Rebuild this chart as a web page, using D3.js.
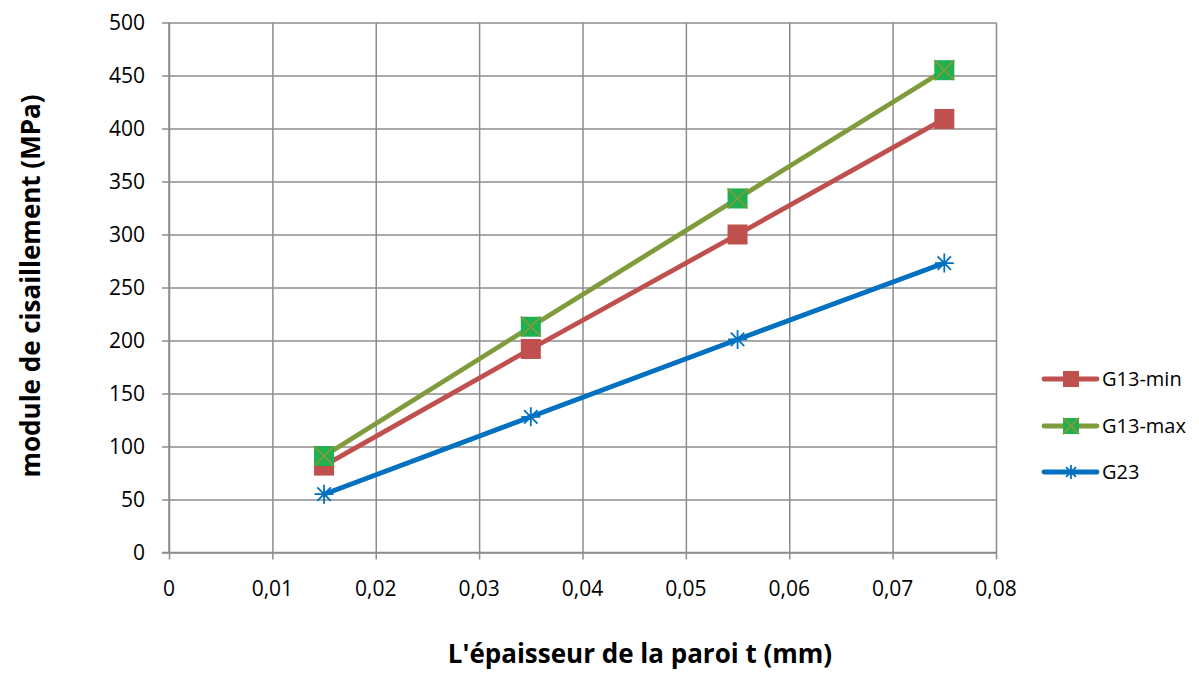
<!DOCTYPE html>
<html>
<head>
<meta charset="utf-8">
<script src="https://cdn.jsdelivr.net/npm/d3@7"></script>
<style>
  html, body { margin: 0; padding: 0; background: #fff; }
  svg { display: block; }
  text { font-family: "Open Sans", "Noto Sans", sans-serif; fill: #000; }
</style>
</head>
<body>
<svg id="chart" width="1199" height="673"></svg>
<script>
// Wall thickness t (mm)
const thickness = [0.015, 0.035, 0.055, 0.075];
// Shear modulus values (MPa)
const g13Min = [82, 192, 300, 409];
const g13Max = [91, 213, 334, 455];
const g23 = [55, 128, 201, 273];
const seriesNames = ["G13-min", "G13-max", "G23"];
const xTicks = [0, 0.01, 0.02, 0.03, 0.04, 0.05, 0.06, 0.07, 0.08];
const yTicks = [0, 50, 100, 150, 200, 250, 300, 350, 400, 450, 500];

const svg = d3.select("#chart");
const plotLeft = 169, plotRight = 996, plotTop = 22.5, plotBottom = 552.5;

const x = d3.scaleLinear().domain([0, 0.08]).range([plotLeft, plotRight]);
const y = d3.scaleLinear().domain([0, 500]).range([plotBottom, plotTop]);
const gridColor = "#8c8c8c";
const fmt = d3.format(".2f");
const frLabel = v => v === 0 ? "0" : fmt(v).replace(".", ",");

// Horizontal gridlines with left tick marks
svg.append("g")
  .attr("transform", `translate(${plotLeft},0)`)
  .call(d3.axisLeft(y).tickValues(yTicks).tickSize(-(plotRight - plotLeft)).tickFormat(""))
  .call(g => g.select(".domain").remove())
  .call(g => g.selectAll("line").attr("stroke", gridColor).attr("stroke-width", 1.5).attr("x1", -7));

// Vertical gridlines with bottom tick marks
svg.append("g")
  .attr("transform", `translate(0,${plotBottom})`)
  .call(d3.axisBottom(x).tickValues(xTicks).tickSize(-(plotBottom - plotTop)).tickFormat(""))
  .call(g => g.select(".domain").remove())
  .call(g => g.selectAll("line").attr("stroke", gridColor).attr("stroke-width", 1.5).attr("y1", 7));

// Axis lines
svg.append("line").attr("x1", plotLeft).attr("x2", plotLeft).attr("y1", plotTop).attr("y2", plotBottom + 1)
  .attr("stroke", gridColor).attr("stroke-width", 1.5);
svg.append("line").attr("x1", plotLeft - 7).attr("x2", plotRight).attr("y1", plotBottom).attr("y2", plotBottom)
  .attr("stroke", gridColor).attr("stroke-width", 1.5);

// Tick labels
svg.append("g").selectAll("text").data(yTicks).join("text")
  .attr("x", 145).attr("y", d => y(d)).attr("dy", "0.36em")
  .attr("text-anchor", "end").attr("font-size", 21).text(d => d);
svg.append("g").selectAll("text").data(xTicks).join("text")
  .attr("x", d => x(d)).attr("y", 596)
  .attr("text-anchor", "middle").attr("font-size", 21).text(frLabel);

// Axis titles
svg.append("text").attr("x", 640).attr("y", 663).attr("text-anchor", "middle")
  .attr("font-size", 26).attr("font-weight", "bold").text("L'épaisseur de la paroi t (mm)");
svg.append("text").attr("transform", "translate(40,286) rotate(-90)").attr("text-anchor", "middle")
  .attr("font-size", 26).attr("font-weight", "bold").text("module de cisaillement (MPa)");

const series = [
  { name: seriesNames[0], values: g13Min, line: "#c0504d", marker: "square", fill: "#c0504d" },
  { name: seriesNames[1], values: g13Max, line: "#7f9b3c", marker: "xsquare", fill: "#1fb050" },
  { name: seriesNames[2], values: g23, line: "#0070c0", marker: "star", fill: "#0070c0" }
];

const lineGen = d3.line().x(d => x(d[0])).y(d => y(d[1]));

function drawMarker(g, s, cx, cy, size) {
  const h = size / 2;
  if (s.marker === "square") {
    g.append("rect").attr("x", cx - h).attr("y", cy - h).attr("width", size).attr("height", size)
      .attr("fill", s.fill);
  } else if (s.marker === "xsquare") {
    g.append("rect").attr("x", cx - h).attr("y", cy - h).attr("width", size).attr("height", size)
      .attr("fill", s.fill);
    g.append("path").attr("d", `M${cx - h},${cy - h}L${cx + h},${cy + h}M${cx + h},${cy - h}L${cx - h},${cy + h}`)
      .attr("stroke", s.line).attr("stroke-width", 1.8);
  } else {
    const r = h;
    const d = [];
    for (let i = 0; i < 4; i++) {
      const a = Math.PI / 4 * i;
      d.push(`M${cx - r * Math.cos(a)},${cy - r * Math.sin(a)}L${cx + r * Math.cos(a)},${cy + r * Math.sin(a)}`);
    }
    g.append("path").attr("d", d.join("")).attr("stroke", s.fill).attr("stroke-width", 1.8);
  }
}

// Draw G23 first, then G13-min, then G13-max on top
[series[2], series[0], series[1]].forEach(s => {
  const pts = thickness.map((t, i) => [t, s.values[i]]);
  svg.append("path").datum(pts).attr("d", lineGen)
    .attr("fill", "none").attr("stroke", s.line).attr("stroke-width", 4.8)
    .attr("stroke-linejoin", "round").attr("stroke-linecap", "round");
  const g = svg.append("g");
  pts.forEach(p => drawMarker(g, s, x(p[0]), y(p[1]), s.marker === "star" ? 19 : 20));
});

// Legend
const legendY = [379, 426, 472];
series.forEach((s, i) => {
  const g = svg.append("g");
  const ly = legendY[i];
  g.append("line").attr("x1", 1044).attr("x2", 1097).attr("y1", ly).attr("y2", ly)
    .attr("stroke", s.line).attr("stroke-width", 4.8).attr("stroke-linecap", "round");
  drawMarker(g, s, 1071, ly, s.marker === "star" ? 14 : 16);
  g.append("text").attr("x", 1102).attr("y", ly).attr("dy", "0.36em")
    .attr("font-size", 20).text(s.name);
});
</script>
</body>
</html>
